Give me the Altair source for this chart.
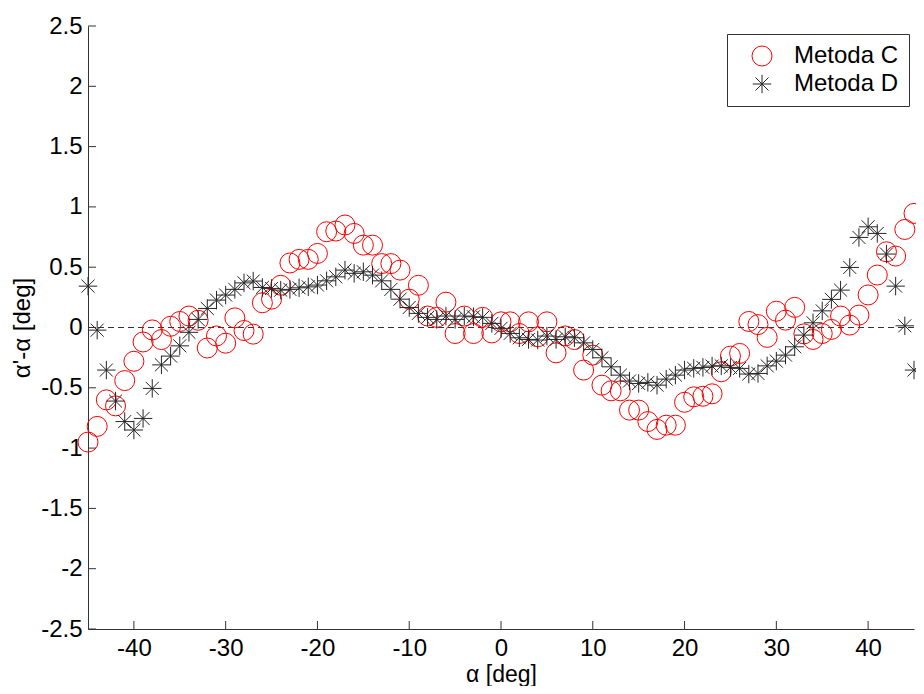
import altair as alt
import pandas as pd

angles = list(range(-45, 46))

metoda_c = [-0.95, -0.82, -0.60, -0.65, -0.44, -0.28, -0.12, -0.02, -0.10, 0.01,
            0.05, 0.095, 0.06, -0.17, -0.07, -0.13, 0.08, -0.025, -0.055, 0.205,
            0.235, 0.35, 0.535, 0.565, 0.565, 0.614, 0.794, 0.80, 0.85, 0.78,
            0.683, 0.683, 0.53, 0.53, 0.476, 0.235, 0.35, 0.095, 0.084, 0.21,
            -0.05, 0.095, -0.05, 0.084, -0.045, 0.047, 0.047, -0.05, 0.047, -0.077,
            0.047, -0.21, -0.07, -0.10, -0.353, -0.229, -0.478, -0.525, -0.525, -0.685,
            -0.685, -0.78, -0.845, -0.81, -0.81, -0.62, -0.575, -0.57, -0.55, -0.367,
            -0.237, -0.215, 0.05, 0.024, -0.082, 0.135, 0.061, 0.167, -0.053, -0.099,
            -0.05, -0.016, 0.095, 0.02, 0.103, 0.27, 0.435, 0.628, 0.592, 0.813,
            0.946]

metoda_d = [0.343, -0.022, -0.353, -0.61, -0.78, -0.85, -0.754, -0.505, -0.31, -0.237,
            -0.152, -0.04, 0.067, 0.158, 0.227, 0.269, 0.316, 0.37, 0.385, 0.332,
            0.324, 0.31, 0.316, 0.329, 0.337, 0.352, 0.387, 0.42, 0.476, 0.449,
            0.462, 0.434, 0.387, 0.316, 0.235, 0.166, 0.117, 0.084, 0.067, 0.095,
            0.067, 0.095, 0.089, 0.084, 0.034, -0.007, -0.049, -0.085, -0.099, -0.104,
            -0.071, -0.099, -0.077, -0.085, -0.127, -0.182, -0.251, -0.326, -0.395, -0.444,
            -0.464, -0.455, -0.478, -0.428, -0.395, -0.353, -0.339, -0.331, -0.32, -0.318,
            -0.331, -0.339, -0.386, -0.381, -0.318, -0.279, -0.229, -0.16, -0.063, 0.039,
            0.138, 0.233, 0.31, 0.498, 0.747, 0.835, 0.78, 0.609, 0.343, 0.014,
            -0.353]

series_names = ["Metoda C", "Metoda D"]
series_colors = ["#ff0000", "#262626"]
star = "M-1,0L1,0M0,-1L0,1M-0.7071,-0.7071L0.7071,0.7071M-0.7071,0.7071L0.7071,-0.7071"
series_shapes = ["circle", star]

x_ticks = [-40, -30, -20, -10, 0, 10, 20, 30, 40]
y_ticks = [-2.5, -2, -1.5, -1, -0.5, 0, 0.5, 1, 1.5, 2, 2.5]

W, H = 826, 603
FONT = "Liberation Sans"

rows = []
for name, vals in zip(series_names, [metoda_c, metoda_d]):
    for a, v in zip(angles, vals):
        rows.append({"method": name, "angle": a, "value": v})
df = pd.DataFrame(rows)

xscale = alt.Scale(domain=[-45, 45], nice=False, zero=False)
yscale = alt.Scale(domain=[-2.5, 2.5], nice=False, zero=False)

points = alt.Chart(df).mark_point(filled=False, strokeWidth=1, opacity=1).encode(
    x=alt.X("angle:Q", scale=xscale,
            axis=alt.Axis(values=x_ticks, title="α [deg]", labelExpr="'' + datum.value",
                          titleY=45, titleBaseline="middle", titleFontSize=23)),
    y=alt.Y("value:Q", scale=yscale,
            axis=alt.Axis(values=y_ticks, title="α'-α [deg]", labelExpr="'' + datum.value",
                          titleX=-66, titleY=H / 2, titleBaseline="middle", titleAngle=270)),
    color=alt.Color("method:N", scale=alt.Scale(domain=series_names, range=series_colors),
                    legend=alt.Legend(title=None, orient="none", legendX=639, legendY=8)),
    shape=alt.Shape("method:N", scale=alt.Scale(domain=series_names, range=series_shapes),
                    legend=alt.Legend(title=None, orient="none", legendX=639, legendY=8)),
    size=alt.Size("method:N", scale=alt.Scale(domain=series_names, range=[400, 340]), legend=None),
    order=alt.Order("method:N"),
)

zero_line = alt.Chart(pd.DataFrame({"y": [0]})).mark_rule(
    color="#333333", strokeDash=[6, 4], strokeWidth=1
).encode(y=alt.Y("y:Q", scale=yscale))

xt = alt.Chart(pd.DataFrame({"t": x_ticks})).mark_rule(color="#333333", strokeWidth=1).encode(
    x=alt.X("t:Q", scale=xscale), y=alt.value(H), y2=alt.value(H - 8))
yt = alt.Chart(pd.DataFrame({"t": y_ticks})).mark_rule(color="#333333", strokeWidth=1).encode(
    y=alt.Y("t:Q", scale=yscale), x=alt.value(0), x2=alt.value(8))

chart = alt.layer(zero_line, xt, yt, points).properties(
    width=W, height=H,
    autosize=alt.AutoSizeParams(type="none"),
    padding={"left": 80, "top": 18, "right": 2, "bottom": 57},
).configure_view(stroke="transparent").configure_axis(
    grid=False, ticks=False, tickSize=0, domainColor="#333333", domainWidth=1,
    labelFont=FONT, labelFontSize=24, labelColor="#000000",
    titleFont=FONT, titleFontSize=24, titleFontWeight="normal", titleColor="#000000",
).configure_axisX(labelPadding=7).configure_axisY(labelPadding=6).configure_legend(
    strokeColor="#333333", fillColor="#ffffff", padding=10, labelFont=FONT, labelFontSize=24,
    labelColor="#000000", symbolSize=400, symbolStrokeWidth=1, symbolOffset=13,
    labelOffset=20, rowPadding=4,
)

chart.save("out.html", embed_options={"renderer": "svg", "actions": False})
